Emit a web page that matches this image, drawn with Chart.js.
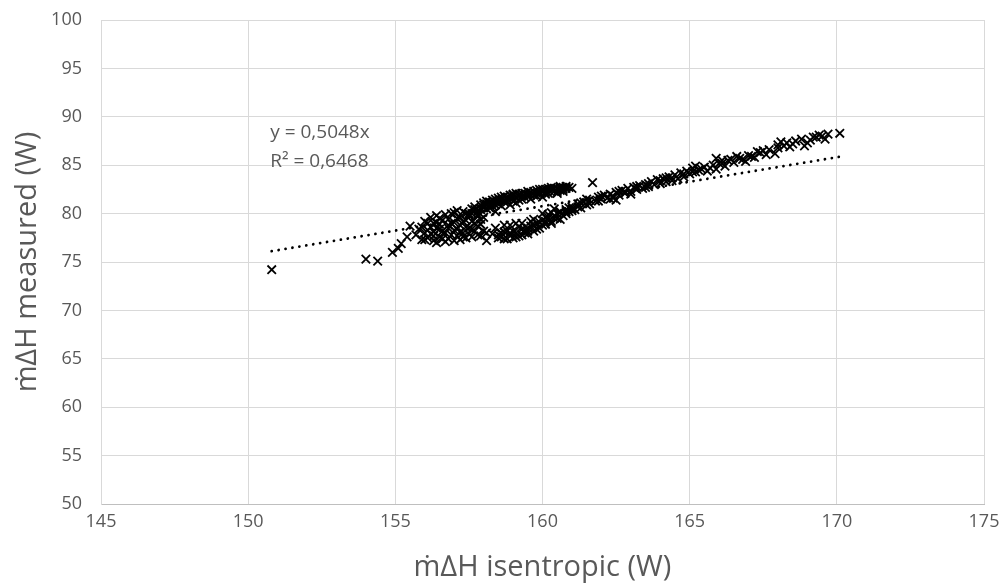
<!DOCTYPE html>
<html>
<head>
<meta charset="utf-8">
<script src="https://cdn.jsdelivr.net/npm/chart.js@4.4.0/dist/chart.umd.min.js"></script>
<style>
  html, body { margin: 0; padding: 0; background: #ffffff; }
  #wrap { width: 1001px; height: 585px; }
</style>
</head>
<body>
<div id="wrap"><canvas id="c" width="1001" height="585"></canvas></div>
<script>
// x: isentropic (W), y: measured (W)
const isentropicX = [
  150.8,154.0,154.4,154.9,155.1,155.2,155.4,155.5,
  155.7,155.8,155.9,156.0,156.0,156.1,156.2,156.2,156.3,156.3,156.4,156.4,156.5,156.5,156.6,156.6,156.7,156.7,
  156.8,156.8,156.9,156.9,157.0,157.0,157.0,157.1,157.1,157.2,157.2,157.3,157.3,157.3,157.4,157.4,157.5,157.5,
  157.6,157.6,157.7,157.7,157.8,157.8,157.9,158.0,158.0,158.1,156.4,156.1,157.9,156.9,
  156.0,156.2,156.5,156.8,157.1,157.4,157.6,156.7,157.2,156.3,157.9,158.1,
  155.9,156.1,156.3,156.5,156.6,156.8,157.0,157.2,157.4,157.5,157.7,157.8,156.4,157.1,157.3,158.0,
  157.5,157.6,157.8,157.9,158.0,158.1,158.2,158.3,158.4,158.5,158.6,158.7,158.8,158.9,159.0,159.0,159.1,159.2,
  159.3,159.4,159.5,159.6,159.7,159.8,159.9,160.0,160.1,160.2,160.3,160.4,160.5,160.6,160.7,160.8,160.9,
  158.2,158.6,159.1,159.6,160.0,157.8,158.4,158.9,
  157.6,157.7,157.9,158.0,158.1,158.3,158.4,158.5,158.7,158.8,159.0,159.2,159.3,159.5,159.6,159.8,159.9,160.1,
  160.3,160.5,160.7,160.6,160.2,161.0,
  157.9,158.1,158.2,158.3,158.5,158.6,158.8,158.9,159.0,159.1,159.2,159.4,159.5,159.7,159.8,160.0,160.1,160.2,
  160.4,160.5,160.6,160.7,160.8,159.9,158.7,158.4,159.3,
  158.3,158.4,158.5,158.6,158.7,158.8,158.9,159.0,159.1,159.2,159.3,159.4,159.5,159.6,159.7,159.8,159.9,160.0,
  160.1,160.2,160.3,160.4,160.5,160.6,160.7,160.8,160.9,161.0,158.9,159.3,159.7,160.0,160.4,
  158.6,158.8,159.0,159.2,159.4,159.5,159.8,160.0,160.1,160.3,160.5,160.6,160.8,160.9,161.0,
  158.5,158.7,158.9,159.1,159.3,159.5,159.7,159.9,160.1,160.2,160.4,160.6,160.8,161.0,159.6,160.3,158.7,159.1,
  161.1,161.2,161.3,161.4,161.5,161.6,161.7,161.8,161.9,162.0,162.1,162.2,162.3,162.4,162.5,162.6,162.7,162.8,
  162.9,163.0,163.1,163.2,163.3,163.4,163.5,163.6,163.7,163.8,163.9,164.0,164.1,164.2,164.3,164.4,164.5,164.6,
  164.7,164.8,164.9,165.0,165.1,165.2,165.3,165.5,165.6,165.8,165.9,166.0,166.2,166.3,166.5,166.6,166.8,167.0,
  167.2,167.4,167.6,167.7,168.0,168.1,168.2,168.4,168.6,168.8,169.0,169.2,169.4,169.6,169.7,170.1,
  161.5,162.3,163.0,162.5,165.9,166.9,167.9,168.9,
  161.3,161.9,162.6,163.5,164.2,165.2,166.1,167.3,168.3,169.3,
  161.2,161.6,162.0,162.4,162.8,163.2,163.6,164.0,164.4,164.8,165.1,165.4,165.7,166.1,166.4,166.7,167.1,167.5,
  168.0,168.5,169.1,169.5
];
const measuredY = [
  74.2,75.3,75.1,76.0,76.4,76.9,77.6,78.7,
  77.8,78.4,77.3,79.2,78.0,77.5,79.6,78.6,77.2,78.1,79.8,77.0,78.9,77.6,79.3,78.2,77.1,79.9,
  78.5,77.4,79.0,77.8,80.1,78.3,77.2,79.5,77.7,78.8,77.3,80.2,79.2,78.0,77.5,78.6,79.8,77.9,
  78.4,77.6,80.4,79.0,77.8,78.7,79.4,78.2,80.6,77.2,79.1,78.3,77.7,80.0,
  77.3,77.9,78.4,79.4,78.4,80.0,79.2,78.0,79.6,79.0,78.9,78.0,
  78.6,79.0,77.7,79.5,77.4,78.8,79.1,78.1,79.3,78.5,78.2,79.9,78.5,80.3,77.6,79.6,
  80.0,80.5,80.2,80.9,81.1,80.5,81.2,80.8,81.5,81.0,81.4,81.8,81.2,81.6,81.9,81.3,81.7,82.0,
  81.5,82.1,81.8,82.2,81.9,82.4,82.0,82.3,82.5,82.1,82.5,82.3,82.6,82.4,82.7,82.6,82.7,
  80.6,80.8,81.1,81.5,81.7,79.7,80.2,80.9,
  80.0,80.7,80.4,80.9,81.3,81.4,80.9,81.6,81.2,81.7,82.0,81.4,82.1,82.3,81.9,82.1,82.5,82.2,
  82.7,82.3,82.5,82.8,82.6,82.6,
  80.6,81.0,80.9,81.1,81.3,81.7,81.5,81.9,81.6,82.1,81.8,81.7,82.0,82.3,81.8,82.5,82.0,82.4,
  82.6,82.1,82.6,82.3,82.8,82.2,81.4,81.2,81.8,
  77.9,78.5,77.5,78.0,77.4,78.2,77.7,77.5,78.0,78.6,77.8,78.3,77.9,78.7,78.2,79.0,78.5,79.3,
  78.9,79.6,79.2,79.8,79.5,80.1,79.8,80.4,80.2,80.7,78.8,79.0,79.4,80.0,80.5,
  77.6,77.4,78.2,77.7,78.0,78.5,78.4,78.8,79.6,79.0,80.0,79.4,80.0,80.6,80.3,
  77.8,78.1,78.0,77.6,78.4,78.2,78.8,79.1,79.2,79.9,79.5,80.2,80.2,80.5,79.2,80.1,78.8,79.0,
  80.4,81.0,80.6,81.2,80.9,81.4,83.2,81.3,81.7,81.5,81.9,81.6,82.0,81.8,82.2,81.9,82.4,82.1,
  82.6,82.3,82.7,82.5,82.9,82.6,83.0,82.8,83.3,83.0,83.5,83.1,83.6,83.3,83.8,83.4,84.0,83.6,
  84.2,83.8,84.4,84.1,84.7,84.3,84.5,84.8,84.4,85.0,85.7,85.2,84.9,85.5,85.3,85.9,85.6,86.0,
  85.8,86.3,86.1,86.6,86.8,87.4,87.0,86.9,87.5,87.7,87.3,87.9,88.1,87.7,88.2,88.3,
  81.5,81.5,82.0,81.4,84.6,85.4,86.2,87.0,
  81.1,81.3,82.3,82.7,83.7,84.9,85.5,86.4,87.3,87.9,
  80.7,81.0,81.8,81.6,82.3,82.8,83.1,83.4,83.7,84.1,84.3,84.6,84.7,85.2,85.6,85.7,85.9,86.5,
  87.1,87.2,87.6,88.0
];
// Linear trendline (through origin, y = 0.5048x) endpoints
const trendX = [150.8, 170.1];
const trendY = [76.12, 85.87];
const trendLabel = ['y = 0,5048x', 'R² = 0,6468'];
const xTicks = [145, 150, 155, 160, 165, 170, 175];
const yTicks = [50, 55, 60, 65, 70, 75, 80, 85, 90, 95, 100];

const FONT = '"Open Sans", "Liberation Sans", sans-serif';
const TXT = '#595959';

const scatterData = isentropicX.map((x, i) => ({ x: x, y: measuredY[i] }));
const trendData = trendX.map((x, i) => ({ x: x, y: trendY[i] }));

const labelPlugin = {
  id: 'trendLabel',
  afterDatasetsDraw(chart) {
    const ctx = chart.ctx;
    const xs = chart.scales.x, ys = chart.scales.y;
    ctx.save();
    ctx.fillStyle = TXT;
    ctx.font = '19px ' + FONT;
    ctx.textAlign = 'left';
    ctx.textBaseline = 'middle';
    const px = xs.getPixelForValue(150.75);
    ctx.fillText(trendLabel[0], px, ys.getPixelForValue(88.35));
    ctx.fillText(trendLabel[1], px, ys.getPixelForValue(85.35));
    ctx.restore();
  }
};

new Chart(document.getElementById('c'), {
  type: 'scatter',
  data: {
    datasets: [
      {
        label: 'data',
        data: scatterData,
        pointStyle: 'crossRot',
        pointRadius: 6,
        pointBorderWidth: 1.8,
        borderColor: '#000000',
        backgroundColor: '#000000',
        pointHoverRadius: 6,
        order: 2
      },
      {
        label: 'trend',
        type: 'line',
        data: trendData,
        showLine: true,
        pointRadius: 0,
        borderColor: '#000000',
        borderWidth: 2.8,
        borderDash: [0.01, 7],
        borderCapStyle: 'round',
        fill: false,
        order: 1
      }
    ]
  },
  options: {
    responsive: false,
    animation: false,
    devicePixelRatio: 1,
    layout: { padding: { left: 0, right: 17, top: 20, bottom: 0 } },
    plugins: { legend: { display: false }, tooltip: { enabled: false } },
    scales: {
      x: {
        type: 'linear',
        min: 145, max: 175,
        afterBuildTicks: (s) => { s.ticks = xTicks.map(v => ({ value: v })); },
        afterFit: (s) => { s.height = 81; s.paddingRight = 0; s.paddingLeft = 0; },
        grid: { color: '#d9d9d9', lineWidth: 1, drawTicks: false },
        border: { color: '#bfbfbf', width: 1 },
        ticks: { color: TXT, font: { family: FONT, size: 18 }, padding: 7, maxRotation: 0 },
        title: {
          display: true, text: 'ṁ∆H isentropic (W)', color: TXT,
          font: { family: FONT, size: 29 }, padding: { top: 3, bottom: 0 }
        }
      },
      y: {
        type: 'linear',
        min: 50, max: 100,
        afterBuildTicks: (s) => { s.ticks = yTicks.map(v => ({ value: v })); },
        afterFit: (s) => { s.width = 101; s.paddingTop = 0; s.paddingBottom = 0; },
        grid: { color: '#d9d9d9', lineWidth: 1, drawTicks: false },
        border: { color: '#d9d9d9', width: 1 },
        ticks: { color: TXT, font: { family: FONT, size: 18 }, padding: 19 },
        title: {
          display: true, text: 'ṁ∆H measured (W)', color: TXT,
          font: { family: FONT, size: 29 }, padding: { top: 10, bottom: 0 }
        }
      }
    }
  },
  plugins: [labelPlugin]
});
</script>
</body>
</html>
